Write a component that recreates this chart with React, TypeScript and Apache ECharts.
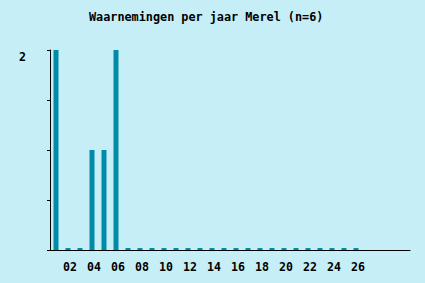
import React, { useEffect, useRef } from "react";
import * as echarts from "echarts";

const categories = [
  "01","02","03","04","05","06","07","08","09","10",
  "11","12","13","14","15","16","17","18","19","20",
  "21","22","23","24","25","26","27","28","29","30",
];
const counts: (number | null)[] = [
  2,0,0,1,1,2,0,0,0,0,
  0,0,0,0,0,0,0,0,0,0,
  0,0,0,0,0,0,null,null,null,null,
];
const labelledCategories = ["02","04","06","08","10","12","14","16","18","20","22","24","26"];
const yTickLabels: Record<string, string> = { "2": "2" };

const FONT = "'DejaVu Sans Mono', monospace";

export default function App() {
  const ref = useRef<HTMLDivElement>(null);
  useEffect(() => {
    const chart = echarts.init(ref.current!, null, { renderer: "svg" });
    chart.setOption({
      animation: false,
      backgroundColor: "#c6eef7",
      title: {
        text: "Waarnemingen per jaar Merel (n=6)",
        left: 84,
        top: 6,
        textStyle: { fontFamily: FONT, fontSize: 11.8, fontWeight: "bold", color: "#000" },
      },
      grid: { left: 50, top: 50, right: 15, bottom: 33, containLabel: false },
      xAxis: {
        type: "category",
        data: categories,
        boundaryGap: true,
        axisLine: { lineStyle: { color: "#000", width: 1 } },
        axisTick: {
          alignWithLabel: true,
          length: 3,
          lineStyle: { color: "#000" },
          interval: (i: number, v: string) => labelledCategories.includes(v),
        },
        axisLabel: {
          interval: (i: number, v: string) => labelledCategories.includes(v),
          fontFamily: FONT,
          fontSize: 11.6,
          fontWeight: "bold",
          color: "#000",
          margin: 11,
          padding: [0, 0, 0, 4],
        },
        splitLine: { show: false },
      },
      yAxis: {
        type: "value",
        min: 0,
        max: 2,
        interval: 0.5,
        axisLine: { show: true, lineStyle: { color: "#000", width: 1 } },
        axisTick: { show: true, length: 3, lineStyle: { color: "#000" } },
        axisLabel: {
          formatter: (v: number) => yTickLabels[String(v)] ?? "",
          fontFamily: FONT,
          fontSize: 11.6,
          fontWeight: "bold",
          color: "#000",
          margin: 24,
          verticalAlign: "top",
          padding: [1, 0, 0, 0],
        },
        splitLine: { show: false },
      },
      series: [
        {
          type: "bar",
          data: counts,
          barWidth: 5,
          barMinHeight: 2,
          itemStyle: { color: "#008ba8" },
        },
      ],
    });
    return () => chart.dispose();
  }, []);
  return <div ref={ref} style={{ width: 425, height: 283, position: "absolute", left: 0, top: 0 }} />;
}
